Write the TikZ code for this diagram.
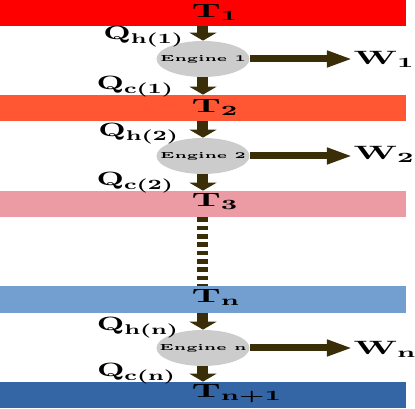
\documentclass[tikz,border=0pt]{standalone}
\usepackage{amsmath}
\usepackage{graphicx}
\usepackage{tikz}
\usetikzlibrary{arrows.meta, positioning, shapes.geometric}
\definecolor{hotred}{RGB}{255,0,0}
\definecolor{warmorange}{RGB}{255,87,51}
\definecolor{softpink}{RGB}{236,154,164}
\definecolor{coolblue}{RGB}{114,159,207}
\definecolor{coldblue}{RGB}{52,101,164}
\definecolor{flowbrown}{RGB}{58,46,8}
\definecolor{enginegray}{RGB}{204,204,204}
\newcommand{\engtext}[1]{\scalebox{1.68}[1]{\fontsize{5}{6}\selectfont\bfseries #1}}

\begin{document}
\begin{tikzpicture}[
  bar/.style={rectangle, inner sep=0pt, minimum width=8.13cm, minimum height=0.52cm},
  engine/.style={ellipse, fill=enginegray, inner sep=0pt, minimum width=1.86cm, minimum height=0.72cm},
  lbl/.style={inner sep=0pt, font=\fontsize{10.95}{13}\selectfont\boldmath, xscale=1.9},
  qlbl/.style={lbl, xscale=1.65/1.9},
  heat/.style={draw=flowbrown, line width=0.22cm, -{Triangle[width=0.54cm, length=0.16cm]}},
  work/.style={draw=flowbrown, line width=0.14cm, -{Triangle[width=0.30cm, length=0.52cm]}},
  chain/.style={draw=flowbrown, line width=0.22cm, dash pattern=on 0.09cm off 0.077cm}
]
  \useasboundingbox (0, 0) rectangle (8.3, 8.18);
  % reservoirs
  \node[bar, fill=hotred]     (b1) at (4.065, 7.92) {};
  \node[bar, fill=warmorange] (b2) at (4.065, 6.02) {};
  \node[bar, fill=softpink]   (b3) at (4.065, 4.10) {};
  \node[bar, fill=coolblue, minimum height=0.54cm] (bn) at (4.065, 2.19) {};
  \node[bar, fill=coldblue]   (bm) at (4.065, 0.28) {};
  \node[lbl, anchor=base west] (t1) at (3.82, 7.82) {$\mathbf{T_1}$};
  \node[lbl, anchor=base west] (t2) at (3.82, 5.92) {$\mathbf{T_2}$};
  \node[lbl, anchor=base west] (t3) at (3.82, 4.04) {$\mathbf{T_3}$};
  \node[lbl, anchor=base west] (tn) at (3.82, 2.12) {$\mathbf{T_n}$};
  \node[lbl, anchor=base west] (tm) at (3.82, 0.22) {$\mathbf{T_{n+1}}$};
  % engines
  \node[engine, label={center:\engtext{Engine 1}}] (e1) at (4.06, 7.00) {};
  \node[engine, label={center:\engtext{Engine 2}}] (e2) at (4.06, 5.06) {};
  \node[engine, label={center:\engtext{Engine n}}] (en) at (4.06, 1.22) {};
  % work outputs
  \node[lbl, anchor=base west] (w1) at (7.06, 6.88) {$\mathbf{W_1}$};
  \node[lbl, anchor=base west] (w2) at (7.06, 4.98) {$\mathbf{W_2}$};
  \node[lbl, anchor=base west] (wn) at (7.06, 1.08) {$\mathbf{W_n}$};
  \draw[work] (e1.east) -- (e1.east -| w1.west);
  \draw[work] (e2.east) -- (e2.east -| w2.west);
  \draw[work] (en.east) -- (en.east -| wn.west);
  % heat flows
  \node[qlbl, anchor=base east] (qh1) at (3.70, 7.38) {$\mathbf{Q_{h(1)}}$};
  \node[qlbl, anchor=base east] (qc1) at (3.50, 6.38) {$\mathbf{Q_{c(1)}}$};
  \node[qlbl, anchor=base east] (qh2) at (3.60, 5.44) {$\mathbf{Q_{h(2)}}$};
  \node[qlbl, anchor=base east] (qc2) at (3.50, 4.46) {$\mathbf{Q_{c(2)}}$};
  \node[qlbl, anchor=base east] (qhn) at (3.60, 1.56) {$\mathbf{Q_{h(n)}}$};
  \node[qlbl, anchor=base east] (qcn) at (3.54, 0.64) {$\mathbf{Q_{c(n)}}$};
  \draw[heat] (b1.south -| e1.north) -- (e1.north);
  \draw[heat] (e1.south) -- (b2.north -| e1.south);
  \draw[heat] (b2.south -| e2.north) -- (e2.north);
  \draw[heat] (e2.south) -- (b3.north -| e2.south);
  \draw[heat] (bn.south -| en.north) -- (en.north);
  \draw[heat] (en.south) -- (bm.north -| en.south);
  % skipped stages
  \draw[chain] (b3.south -| e2.south) -- (bn.north -| en.north);
\end{tikzpicture}
\end{document}
